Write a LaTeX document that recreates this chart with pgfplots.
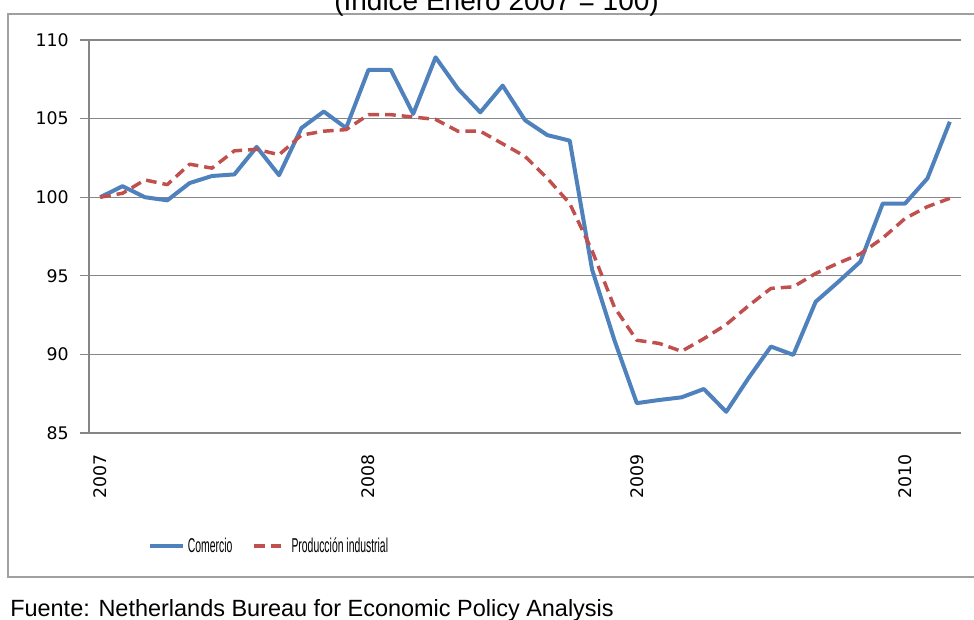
\documentclass[border=0pt]{standalone}
\usepackage{pgfplots}
\pgfplotsset{compat=1.18}
\usepackage{pgfplotstable}
\usepackage{fontspec}
\setmainfont{Liberation Sans}
\newfontfamily\tickfont{DejaVu Sans}
\newfontfamily\legfont[FakeStretch=0.52]{Liberation Sans}
\definecolor{exblue}{HTML}{4F81BD}
\definecolor{exred}{HTML}{C0504D}
\definecolor{gridc}{HTML}{868686}
\definecolor{framec}{HTML}{A0A0A0}

\pgfplotstableread{
x y
0 100.0
1 100.7
2 100.0
3 99.8
4 100.9
5 101.35
6 101.45
7 103.2
8 101.4
9 104.4
10 105.45
11 104.4
12 108.1
13 108.1
14 105.3
15 108.9
16 106.9
17 105.4
18 107.1
19 104.9
20 103.95
21 103.6
22 95.4
23 90.9
24 86.9
25 87.1
26 87.27
27 87.8
28 86.35
29 88.5
30 90.5
31 89.97
32 93.35
33 94.6
34 95.9
35 99.6
36 99.6
37 101.2
38 104.8
}\comercio

\pgfplotstableread{
x y
0 100.0
1 100.25
2 101.1
3 100.8
4 102.1
5 101.85
6 102.95
7 103.05
8 102.7
9 103.95
10 104.2
11 104.3
12 105.25
13 105.25
14 105.1
15 104.95
16 104.2
17 104.2
18 103.4
19 102.6
20 101.2
21 99.6
22 96.6
23 93.0
24 90.9
25 90.7
26 90.2
27 91.0
28 91.9
29 93.1
30 94.2
31 94.3
32 95.15
33 95.8
34 96.4
35 97.4
36 98.65
37 99.4
38 99.93
}\produccion

\begin{document}
\begin{tikzpicture}
\useasboundingbox (0pt,0pt) rectangle (730.5pt,-464.25pt);
% chart area frame
\draw[framec, line width=1pt] (6pt,-10.5pt) rectangle (745pt,-432.75pt);
% title (top partially outside the picture, as in the reference)
\node[anchor=base, inner sep=0pt, font=\fontsize{21pt}{24pt}\selectfont] at (372.4pt,-7.5pt) {(Índice Enero 2007 = 100)};
% source
\node[anchor=base west, inner sep=0pt, font=\fontsize{17.6pt}{20pt}\selectfont] at (7.5pt,-462pt) {Fuente: Netherlands Bureau for Economic Policy Analysis};
\begin{axis}[
  scale only axis,
  width=654pt, height=294.75pt,
  at={(66.75pt,-324.75pt)}, anchor=south west,
  xmin=-0.5, xmax=38.5,
  ymin=85, ymax=110,
  ytick={85,90,...,110},
  xtick={0,12,24,36},
  xticklabels={2007,2008,2009,2010},
  minor xtick={-0.5,0.5,...,38.5},
  axis lines*=left,
  axis line style={gridc, line width=1pt},
  tick align=outside,
  major tick length=6.75pt,
  minor tick length=5.25pt,
  xtick style={draw=none},
  ytick style={gridc, line width=1pt},
  minor x tick style={gridc, line width=1pt},
  ymajorgrids,
  major grid style={gridc, line width=1pt},
  /pgf/number format/assume math mode=true,
  ticklabel style={font=\tickfont\fontsize{13pt}{15pt}\selectfont},
  yticklabel style={/pgf/number format/fixed},
  xticklabel style={rotate=90, anchor=east},
  xticklabel shift=6pt,
  yticklabel shift=5pt,
  legend columns=2,
  legend style={
    at={(0.2070,-0.2875)}, anchor=center,
    draw=none, fill=none,
    font=\legfont\fontsize{15pt}{18pt}\selectfont,
    /tikz/every even column/.append style={column sep=13pt},
    inner sep=0pt,
  },
  legend cell align=left,
  legend image code/.code={\draw[#1] (0pt,0pt) -- (24.75pt,0pt);},
  clip=false,
]
\addplot[exblue, line width=3pt, line join=round] table[x=x,y=y] {\comercio};
\addlegendentry{Comercio}
\addplot[exred, line width=2.6pt, dash pattern=on 8pt off 4.5pt, line join=round] table[x=x,y=y] {\produccion};
\addlegendentry{Producción industrial}
\end{axis}
\end{tikzpicture}
\end{document}
